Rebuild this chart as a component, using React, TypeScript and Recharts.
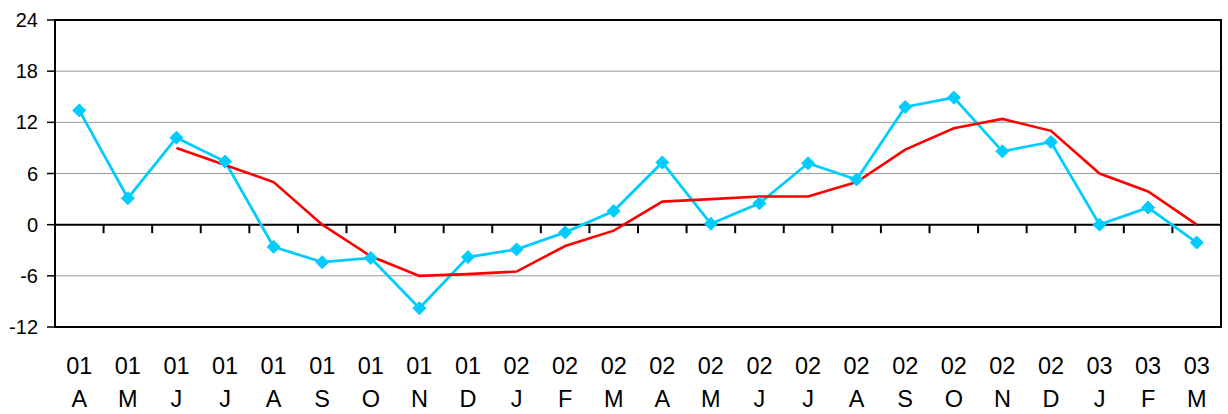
import React from "react";
import {
  LineChart,
  Line,
  XAxis,
  YAxis,
  CartesianGrid,
  ReferenceLine,
  ReferenceArea,
} from "recharts";

const years = [
  "01", "01", "01", "01", "01", "01", "01", "01", "01",
  "02", "02", "02", "02", "02", "02", "02", "02", "02", "02", "02", "02",
  "03", "03", "03",
];
const months = [
  "A", "M", "J", "J", "A", "S", "O", "N", "D",
  "J", "F", "M", "A", "M", "J", "J", "A", "S", "O", "N", "D",
  "J", "F", "M",
];
const monthly = [
  13.4, 3.1, 10.2, 7.4, -2.6, -4.4, -3.9, -9.8, -3.8,
  -2.9, -0.9, 1.6, 7.3, 0.1, 2.5, 7.2, 5.3, 13.8, 14.9, 8.6, 9.7,
  0.0, 2.0, -2.1,
];
const average = [
  null, null, 9.0, 7.0, 5.0, 0.0, -3.7, -6.0, -5.8,
  -5.5, -2.5, -0.7, 2.7, 3.0, 3.3, 3.3, 5.0, 8.8, 11.3, 12.4, 11.0,
  6.0, 3.9, 0.0,
];
const yTicks = [-12, -6, 0, 6, 12, 18, 24];

const data = months.map((m, i) => ({
  x: i + 0.5,
  monthly: monthly[i],
  average: average[i],
}));
const xTicks = data.map((d) => d.x);
const boundaries = months.slice(1).map((_, i) => i + 1);

const font = "'Liberation Sans', Arial, sans-serif";

const MonthTick = (props: any) => {
  const { x, y, payload } = props;
  const i = Math.floor(payload.value);
  return (
    <text x={x} y={y} textAnchor="middle" fontSize={23.5} fill="#000" fontFamily={font}>
      <tspan x={x} dy={47}>{years[i]}</tspan>
      <tspan x={x} dy={33}>{months[i]}</tspan>
    </text>
  );
};

const Diamond = (props: any) => {
  const { cx, cy, index } = props;
  if (cx == null || cy == null) return <g key={index} />;
  const r = 6.5;
  return (
    <path
      key={index}
      d={`M${cx},${cy - r}L${cx + r},${cy}L${cx},${cy + r}L${cx - r},${cy}Z`}
      fill="#00CCFF"
      stroke="#00CCFF"
    />
  );
};

export default function App() {
  return (
    <div style={{ position: "absolute", left: 0, top: 0, background: "#fff" }}>
      <LineChart
        width={1228}
        height={414}
        data={data}
        margin={{ top: 20, right: 7, bottom: 0, left: 0 }}
      >
        <CartesianGrid vertical={false} stroke="#999" strokeWidth={1} />
        <XAxis
          dataKey="x"
          type="number"
          domain={[0, 24]}
          ticks={xTicks}
          interval={0}
          height={87}
          axisLine={false}
          tickLine={false}
          tickSize={0}
          tickMargin={0}
          tick={<MonthTick />}
        />
        <YAxis
          type="number"
          domain={[-12, 24]}
          ticks={yTicks}
          interval={0}
          width={55}
          axisLine={{ stroke: "#000", strokeWidth: 2 }}
          tickLine={{ stroke: "#000", strokeWidth: 1.5 }}
          tickSize={8}
          tickMargin={9}
          tick={{ fontSize: 20, fill: "#000", fontFamily: font }}
        />
        <ReferenceArea
          x1={0}
          x2={24}
          y1={-12}
          y2={24}
          fill="none"
          stroke="#000"
          strokeWidth={2}
          fillOpacity={0}
        />
        <ReferenceLine y={0} stroke="#000" strokeWidth={2} />
        {boundaries.map((b) => (
          <ReferenceLine
            key={b}
            segment={[
              { x: b, y: 0 },
              { x: b, y: -1 },
            ]}
            stroke="#000"
            strokeWidth={2}
          />
        ))}
        <Line
          type="linear"
          dataKey="monthly"
          stroke="#00CCFF"
          strokeWidth={2.8}
          dot={<Diamond />}
          activeDot={false}
          isAnimationActive={false}
        />
        <Line
          type="linear"
          dataKey="average"
          stroke="#FF0000"
          strokeWidth={2.6}
          dot={false}
          activeDot={false}
          isAnimationActive={false}
        />
      </LineChart>
    </div>
  );
}
